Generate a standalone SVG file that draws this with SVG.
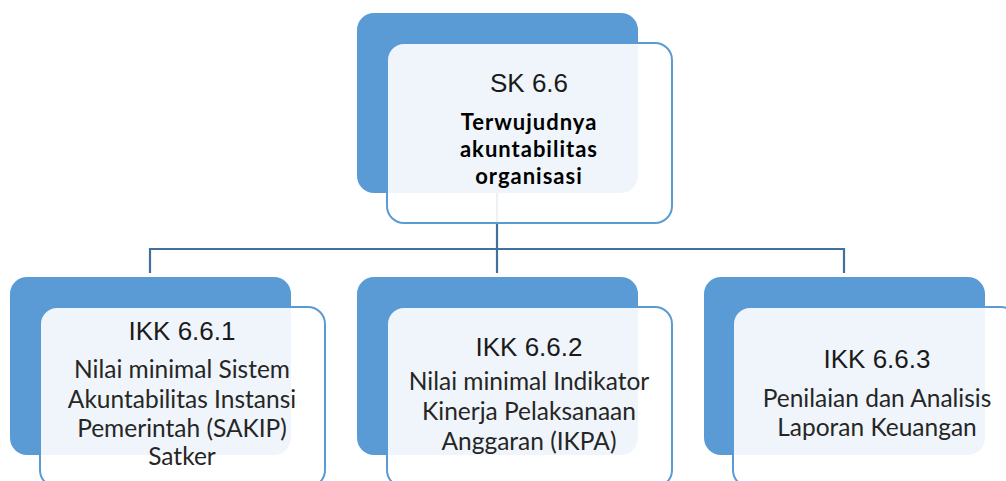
<svg xmlns="http://www.w3.org/2000/svg" width="1006" height="481" viewBox="0 0 1006 481">
<style>
.back{fill:#5b9bd5;}
.front{fill:#ffffff;fill-opacity:0.9;stroke:#5b9bd5;stroke-width:2;}
.conn{fill:none;stroke:#41719c;stroke-width:2.2;}
.code{font-family:"Liberation Sans",Arial,sans-serif;font-size:26px;fill:#1a1a1a;text-anchor:middle;}
.title{font-family:Lato,"Liberation Sans",sans-serif;font-weight:bold;font-size:22px;letter-spacing:1px;fill:#000;text-anchor:middle;}
.desc{font-family:Lato,"Liberation Sans",sans-serif;font-size:24.5px;fill:#262626;text-anchor:middle;}
</style>
<rect width="1006" height="481" fill="#ffffff"/>
<g id="backs">
<rect class="back" x="357" y="13" width="281" height="180" rx="17"/>
<rect class="back" x="10" y="277" width="281" height="178" rx="17"/>
<rect class="back" x="357" y="277" width="281" height="178" rx="17"/>
<rect class="back" x="704" y="277" width="281" height="178" rx="17"/>
</g>
<g id="connectors">
<path class="conn" d="M497 193 V273"/>
<path class="conn" d="M150 273 V249 H844 V273"/>
</g>
<g id="sk66">
<rect class="front" x="387" y="43" width="285" height="180" rx="17"/>
<text class="code" x="529" y="92">SK 6.6</text>
<text class="title" x="529" y="130">Terwujudnya</text>
<text class="title" x="529" y="157">akuntabilitas</text>
<text class="title" x="529" y="184">organisasi</text>
</g>
<g id="ikk661">
<rect class="front" x="40" y="307" width="285" height="180" rx="17"/>
<text class="code" x="182" y="340">IKK 6.6.1</text>
<text class="desc" x="182" y="378">Nilai minimal Sistem</text>
<text class="desc" x="182" y="408">Akuntabilitas Instansi</text>
<text class="desc" x="182" y="437">Pemerintah (SAKIP)</text>
<text class="desc" x="182" y="465">Satker</text>
</g>
<g id="ikk662">
<rect class="front" x="387" y="307" width="285" height="180" rx="17"/>
<text class="code" x="529" y="356">IKK 6.6.2</text>
<text class="desc" x="529" y="390">Nilai minimal Indikator</text>
<text class="desc" x="529" y="420">Kinerja Pelaksanaan</text>
<text class="desc" x="529" y="450">Anggaran (IKPA)</text>
</g>
<g id="ikk663">
<rect class="front" x="733" y="307" width="285" height="180" rx="17"/>
<text class="code" x="877" y="368">IKK 6.6.3</text>
<text class="desc" x="877" y="407">Penilaian dan Analisis</text>
<text class="desc" x="877" y="436">Laporan Keuangan</text>
</g>
</svg>
